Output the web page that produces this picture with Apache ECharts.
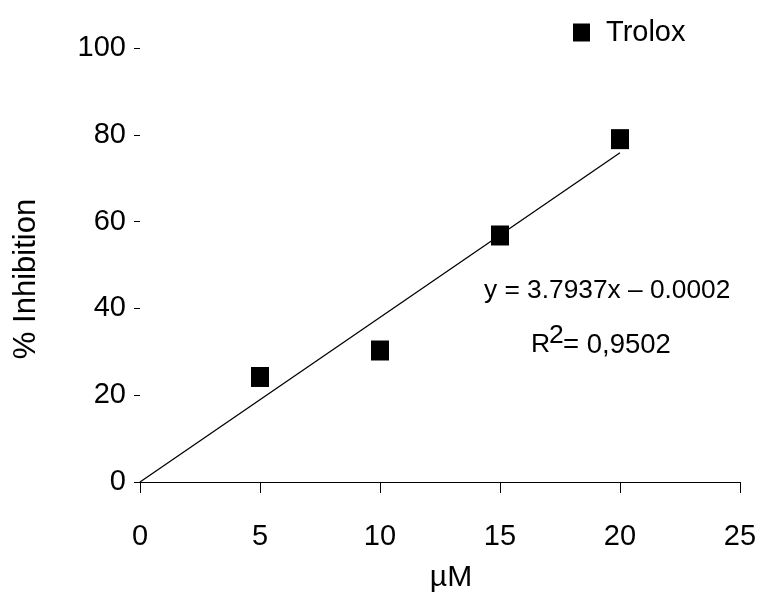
<!DOCTYPE html>
<html>
<head>
<meta charset="utf-8">
<script src="https://cdn.jsdelivr.net/npm/echarts@6/dist/echarts.min.js"></script>
<style>
  html, body { margin: 0; padding: 0; background: #fff; }
  #chart { width: 765px; height: 607px; }
</style>
</head>
<body>
<div id="chart"></div>
<script>
// concentration (µM) and % inhibition for Trolox
const xValues = [5, 10, 15, 20]
const yValues = [24.2, 30.3, 56.8, 79.0]
// linear trendline endpoints (y = 3.7937x - 0.0002)
const trendX = [0, 20]
const trendY = [0, 75.87]
const xTicks = [0, 5, 10, 15, 20, 25]
const yTicks = [0, 20, 40, 60, 80, 100]

const font = 'Liberation Sans, Arial, sans-serif'
const myChart = echarts.init(document.getElementById('chart'))

const option = {
  animation: false,
  backgroundColor: '#fff',
  grid: {
    left: 140,
    right: 25,
    top: 48,
    bottom: 125
  },
  legend: {
    data: ['Trolox'],
    left: 573,
    top: 18,
    padding: 0,
    icon: 'rect',
    itemWidth: 17,
    itemHeight: 18,
    textStyle: {
      fontFamily: font,
      fontSize: 29,
      color: '#000',
      padding: [0, 0, 0, 11]
    }
  },
  xAxis: {
    type: 'value',
    min: xTicks[0],
    max: xTicks[xTicks.length - 1],
    interval: 5,
    name: 'µM',
    nameLocation: 'middle',
    nameGap: 81,
    nameTextStyle: {
      fontFamily: font,
      fontSize: 30,
      color: '#000',
      padding: [0, 0, 0, 22]
    },
    axisLine: { show: true, lineStyle: { color: '#000', width: 1 } },
    axisTick: { show: true, length: 11, lineStyle: { color: '#000' } },
    axisLabel: {
      margin: 40,
      fontFamily: font,
      fontSize: 29,
      color: '#000'
    },
    splitLine: { show: false }
  },
  yAxis: {
    type: 'value',
    min: yTicks[0],
    max: yTicks[yTicks.length - 1],
    interval: 20,
    offset: 3,
    name: '% Inhibition',
    nameLocation: 'middle',
    nameGap: 95,
    nameTextStyle: {
      fontFamily: font,
      fontSize: 31,
      color: '#000',
      padding: [0, 28, 0, 0]
    },
    axisLine: { show: false },
    axisTick: { show: true, length: 6, lineStyle: { color: '#000' } },
    axisLabel: {
      margin: 11,
      fontFamily: font,
      fontSize: 29,
      color: '#000'
    },
    splitLine: { show: false }
  },
  graphic: [
    {
      type: 'text',
      left: 484,
      top: 278,
      style: { text: 'y = 3.7937x \u2013 0.0002', font: '26.3px ' + font, fill: '#000' }
    },
    {
      type: 'text',
      left: 531,
      top: 331,
      style: { text: 'R', font: '26.5px ' + font, fill: '#000' }
    },
    {
      type: 'text',
      left: 549,
      top: 322,
      style: { text: '2', font: '26.5px ' + font, fill: '#000' }
    },
    {
      type: 'text',
      left: 563,
      top: 331,
      style: { text: '= 0,9502', font: '27.5px ' + font, fill: '#000' }
    }
  ],
  series: [
    {
      name: 'trend',
      type: 'line',
      data: trendX.map((x, i) => [x, trendY[i]]),
      symbol: 'none',
      lineStyle: { color: '#000', width: 1.3 },
      z: 1
    },
    {
      name: 'Trolox',
      type: 'scatter',
      data: xValues.map((x, i) => [x, yValues[i]]),
      symbol: 'rect',
      symbolSize: [18, 20],
      itemStyle: { color: '#000', opacity: 1 },
      z: 2
    }
  ]
}
myChart.setOption(option)
</script>
</body>
</html>
